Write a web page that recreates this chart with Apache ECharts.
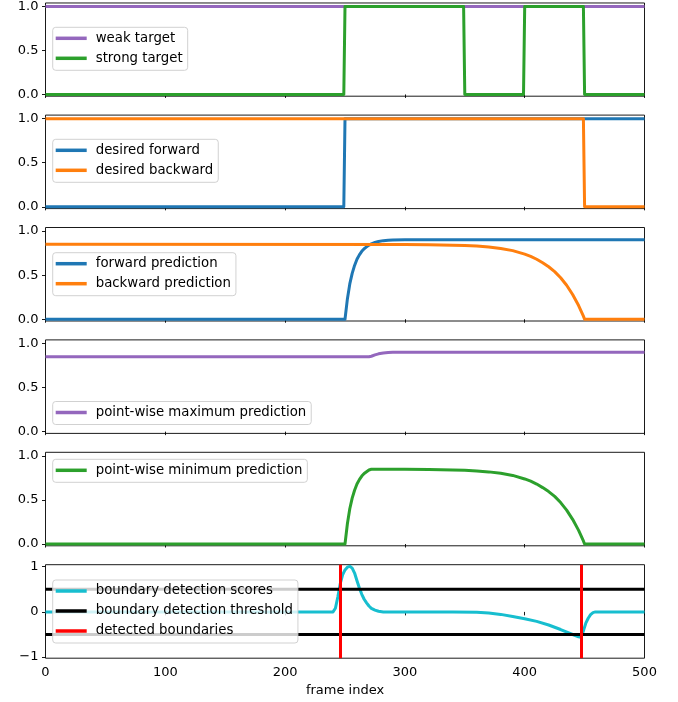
<!DOCTYPE html>
<html>
<head>
<meta charset="utf-8">
<script src="https://cdn.jsdelivr.net/npm/echarts@6.0.0/dist/echarts.min.js"></script>
<style>
html,body{margin:0;padding:0;background:#fff;}
#chart{width:678px;height:702px;}
</style>
</head>
<body>
<div id="chart"></div>
<script>
// ---------------- data ----------------
const xTickValues = [0, 100, 200, 300, 400, 500];
const unitTicks = [0, 0.5, 1];
const scoreTicks = [-1, 0, 1];

const weakX = [0, 500];
const weakY = [1, 1];
const strongX = [0, 249, 250, 349, 350, 399, 400, 449, 450, 500];
const strongY = [0, 0, 1, 1, 0, 0, 1, 1, 0, 0];

const desFwdX = [0, 249, 250, 500];
const desFwdY = [0, 0, 1, 1];
const desBwdX = [0, 449, 450, 500];
const desBwdY = [1, 1, 0, 0];

const predFwdX = [0, 250, 252, 254, 256, 258, 260, 262, 264, 266, 268, 270, 272, 275, 278, 282, 286, 290, 300, 500];
const predFwdY = [0, 0, 0.23, 0.40, 0.52, 0.61, 0.68, 0.73, 0.77, 0.80, 0.82, 0.84, 0.855, 0.87, 0.882, 0.891, 0.896, 0.899, 0.9, 0.9];
const predBwdX = [0, 300, 320, 340, 350, 360, 370, 380, 390, 400, 405, 410, 415, 420, 425, 430, 435, 440, 445, 449, 450, 500];
const predBwdY = [0.85, 0.848, 0.845, 0.84, 0.836, 0.829, 0.818, 0.802, 0.778, 0.738, 0.713, 0.68, 0.64, 0.595, 0.54, 0.47, 0.385, 0.28, 0.155, 0.035, 0, 0];

const maxX = [0, 270, 272, 275, 278, 282, 286, 290, 300, 500];
const maxY = [0.85, 0.85, 0.855, 0.87, 0.882, 0.891, 0.896, 0.899, 0.9, 0.9];

const minX = [0, 250, 252, 254, 256, 258, 260, 262, 264, 266, 268, 270, 272, 300, 320, 340, 350, 360, 370, 380, 390, 400, 405, 410, 415, 420, 425, 430, 435, 440, 445, 449, 450, 500];
const minY = [0, 0, 0.23, 0.40, 0.52, 0.61, 0.68, 0.73, 0.77, 0.80, 0.82, 0.84, 0.848, 0.848, 0.845, 0.84, 0.836, 0.829, 0.818, 0.802, 0.778, 0.738, 0.713, 0.68, 0.64, 0.595, 0.54, 0.47, 0.385, 0.28, 0.155, 0.035, 0, 0];

const scoreX = [0, 240, 242, 244, 246, 248, 250, 252, 254, 256, 258, 260, 262, 264, 266, 268, 270, 272, 275, 278, 282, 340, 360, 370, 380, 390, 400, 410, 420, 430, 440, 445, 447, 449, 451, 453, 455, 457, 459, 500];
const scoreY = [0, 0, 0.08, 0.33, 0.62, 0.82, 0.93, 0.99, 1.01, 0.97, 0.86, 0.69, 0.53, 0.39, 0.28, 0.2, 0.13, 0.08, 0.04, 0.015, 0, 0, -0.01, -0.025, -0.055, -0.1, -0.15, -0.21, -0.29, -0.39, -0.5, -0.55, -0.56, -0.42, -0.25, -0.14, -0.06, -0.015, 0, 0];

const thresholdValue = 0.5;
const thresholdSpanX = [0, 500];
const boundaries = [246, 447];

// ---------------- layout ----------------
const FONT = 'DejaVu Sans';
const panelTops = [2.7, 115.1, 227.5, 339.9, 452.3, 564.7];
const panelHeight = 93.5;
const legendTops = [27.3, 139.3, 252.7, 401.5, 459.3, 580];

const C = {purple: '#9467bd', green: '#2ca02c', blue: '#1f77b4', orange: '#ff7f0e', cyan: '#17becf', black: '#000000', red: '#ff0000'};

const zip = (xs, ys) => xs.map((x, i) => [x, ys[i]]);

const grids = panelTops.map(t => ({
  left: 45.5, width: 599, top: t, height: panelHeight,
  show: true, borderColor: '#000', borderWidth: 0.9, backgroundColor: 'transparent'
}));

const xAxes = panelTops.map((t, i) => ({
  type: 'value', gridIndex: i, min: 0, max: 500, interval: 100,
  axisLine: {show: false},
  axisTick: {show: true, inside: false, length: 3.5, lineStyle: {color: '#000', width: 0.9}},
  axisLabel: {show: i === 5, margin: 8, color: '#000', fontFamily: FONT, fontSize: 13},
  splitLine: {show: false},
  name: i === 5 ? 'frame index' : '',
  nameLocation: 'middle', nameGap: 26,
  nameTextStyle: {color: '#000', fontFamily: FONT, fontSize: 13}
}));

const fmtUnit = v => v.toFixed(1);
const fmtScore = v => (v < 0 ? '\u2212' + Math.abs(v) : String(v));

const yAxes = panelTops.map((t, i) => {
  const last = i === 5;
  return {
    type: 'value', gridIndex: i,
    min: last ? -1.025 : -0.02, max: last ? 1.045 : 1.04,
    axisLine: {show: false},
    axisTick: {show: true, inside: false, length: 3.5, customValues: last ? scoreTicks : unitTicks, lineStyle: {color: '#000', width: 0.9}},
    axisLabel: {show: true, margin: 7, customValues: last ? scoreTicks : unitTicks, formatter: last ? fmtScore : fmtUnit, color: '#000', fontFamily: FONT, fontSize: 13},
    splitLine: {show: false}
  };
});

function line(name, panel, xs, ys, color) {
  return {
    type: 'line', name, xAxisIndex: panel, yAxisIndex: panel,
    data: zip(xs, ys), symbol: 'none', showSymbol: false, color,
    lineStyle: {width: 3, color, join: 'round'}, clip: true, silent: true, animation: false
  };
}

const series = [
  line('weak target', 0, weakX, weakY, C.purple),
  line('strong target', 0, strongX, strongY, C.green),
  line('desired forward', 1, desFwdX, desFwdY, C.blue),
  line('desired backward', 1, desBwdX, desBwdY, C.orange),
  line('forward prediction', 2, predFwdX, predFwdY, C.blue),
  line('backward prediction', 2, predBwdX, predBwdY, C.orange),
  line('point-wise maximum prediction', 3, maxX, maxY, C.purple),
  line('point-wise minimum prediction', 4, minX, minY, C.green),
  line('boundary detection scores', 5, scoreX, scoreY, C.cyan),
  line('boundary detection threshold', 5, thresholdSpanX, thresholdSpanX.map(() => thresholdValue), C.black),
  line('boundary detection threshold', 5, thresholdSpanX, thresholdSpanX.map(() => -thresholdValue), C.black),
  {
    type: 'line', name: 'detected boundaries', xAxisIndex: 5, yAxisIndex: 5,
    data: [], symbol: 'none', color: C.red, lineStyle: {color: C.red, width: 3},
    animation: false, silent: true,
    markLine: {
      silent: true, symbol: ['none', 'none'], animation: false,
      label: {show: false},
      lineStyle: {color: C.red, width: 3, type: 'solid'},
      emphasis: {disabled: true},
      data: boundaries.map(b => ({xAxis: b}))
    }
  }
];

const legendNames = [
  ['weak target', 'strong target'],
  ['desired forward', 'desired backward'],
  ['forward prediction', 'backward prediction'],
  ['point-wise maximum prediction'],
  ['point-wise minimum prediction'],
  ['boundary detection scores', 'boundary detection threshold', 'detected boundaries']
];

const legends = legendNames.map((names, i) => ({
  data: names, orient: 'vertical', left: 52.7, top: legendTops[i],
  icon: 'rect', itemWidth: 31, itemHeight: 3.5, itemGap: 6,
  padding: [4, 5, 5, 3],
  backgroundColor: 'rgba(255,255,255,0.8)', borderColor: 'rgba(204,204,204,0.9)', borderWidth: 1, borderRadius: 3,
  selectedMode: false,
  textStyle: {fontFamily: FONT, fontSize: 13.3, color: '#000', lineHeight: 14, padding: [0, 0, 0, 4]}
}));

const chart = echarts.init(document.getElementById('chart'), null, {renderer: 'canvas'});
chart.setOption({
  animation: false,
  backgroundColor: '#ffffff',
  grid: grids, xAxis: xAxes, yAxis: yAxes, legend: legends, series
});
</script>
</body>
</html>
